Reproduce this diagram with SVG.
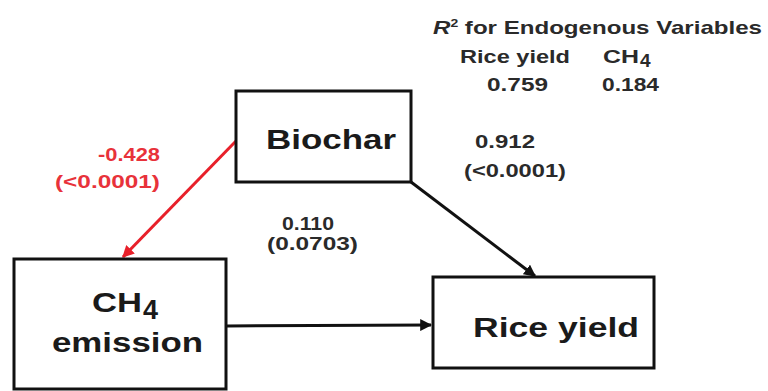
<svg xmlns="http://www.w3.org/2000/svg" width="768" height="391" viewBox="0 0 768 391">
<defs>
<style>
.box{fill:#fff;stroke:#111;stroke-width:3}
.node{font-family:"Liberation Sans",Arial,sans-serif;font-weight:bold;font-size:27px;fill:#1a1a1a}
.lbl{font-family:"Liberation Sans",Arial,sans-serif;font-weight:bold;font-size:18px;fill:#2a2a2a}
.red{fill:#e8323a}
.hdr{font-family:"Liberation Sans",Arial,sans-serif;font-weight:bold;font-size:19px;fill:#2a2a2a}
.edge{fill:none;stroke-width:3}
</style>
<marker id="ah" viewBox="0 0 10 10" refX="9" refY="5" markerWidth="4" markerHeight="4" orient="auto" markerUnits="strokeWidth">
<path d="M0,0 L10,5 L0,10 z" fill="#111"/>
</marker>
<marker id="ahr" viewBox="0 0 10 10" refX="9" refY="5" markerWidth="4" markerHeight="4" orient="auto" markerUnits="strokeWidth">
<path d="M0,0 L10,5 L0,10 z" fill="#e8202a"/>
</marker>
</defs>
<rect width="768" height="391" fill="#fff"/>

<g id="legend">
<text class="hdr" x="433" y="34" textLength="329" lengthAdjust="spacingAndGlyphs"><tspan font-style="italic">R</tspan><tspan font-size="11" dy="-7">2</tspan><tspan dy="7"> for Endogenous Variables</tspan></text>
<text class="hdr" x="460" y="63" textLength="110" lengthAdjust="spacingAndGlyphs">Rice yield</text>
<text class="hdr" x="603" y="63" textLength="36" lengthAdjust="spacingAndGlyphs">CH</text>
<text class="hdr" x="640" y="67" font-size="11">4</text>
<text class="hdr" x="487" y="91" textLength="61" lengthAdjust="spacingAndGlyphs">0.759</text>
<text class="hdr" x="602" y="91" textLength="57" lengthAdjust="spacingAndGlyphs">0.184</text>
</g>

<g id="connectors">
<line class="edge" x1="236" y1="141" x2="123" y2="257" stroke="#e8202a" marker-end="url(#ahr)"/>
<line class="edge" x1="411" y1="182" x2="535" y2="276" stroke="#111" marker-end="url(#ah)"/>
<line class="edge" x1="227" y1="326" x2="431" y2="325" stroke="#111" marker-end="url(#ah)"/>
<text class="lbl red" x="98" y="161" textLength="62" lengthAdjust="spacingAndGlyphs">-0.428</text>
<text class="lbl red" x="55" y="188" textLength="105" lengthAdjust="spacingAndGlyphs">(&lt;0.0001)</text>
<text class="lbl" x="475" y="148" textLength="60" lengthAdjust="spacingAndGlyphs">0.912</text>
<text class="lbl" x="464" y="177" textLength="102" lengthAdjust="spacingAndGlyphs">(&lt;0.0001)</text>
<text class="lbl" x="282" y="230" textLength="52" lengthAdjust="spacingAndGlyphs">0.110</text>
<text class="lbl" x="267" y="250" textLength="91" lengthAdjust="spacingAndGlyphs">(0.0703)</text>
</g>

<g id="biochar">
<rect class="box" x="236" y="91" width="175" height="91"/>
<text class="node" x="266" y="149" textLength="130" lengthAdjust="spacingAndGlyphs">Biochar</text>
</g>

<g id="ch4">
<rect class="box" x="14" y="259" width="212" height="130"/>
<text class="node" x="92" y="312" textLength="50" lengthAdjust="spacingAndGlyphs">CH</text>
<text class="node" x="143" y="319" font-size="17">4</text>
<text class="node" x="52" y="352" textLength="151" lengthAdjust="spacingAndGlyphs">emission</text>
</g>

<g id="rice">
<rect class="box" x="433" y="277" width="221" height="91"/>
<text class="node" x="473" y="337" textLength="166" lengthAdjust="spacingAndGlyphs">Rice yield</text>
</g>
</svg>
